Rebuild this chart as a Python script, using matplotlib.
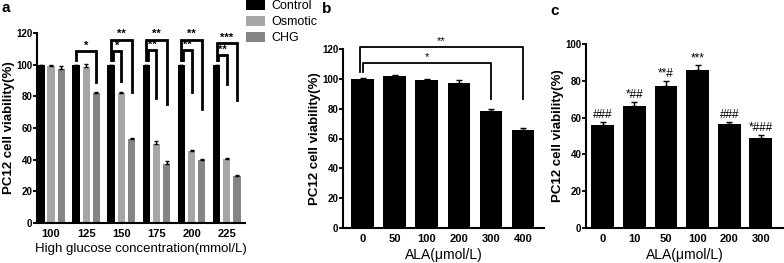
import numpy as np
import matplotlib
matplotlib.use("Agg")
import matplotlib.pyplot as plt
from matplotlib import font_manager as fm
from matplotlib.patches import Patch

def has_font(name):
    try:
        fm.findfont(name, fallback_to_default=False)
        return True
    except Exception:
        return False

NARROW = 'Liberation Sans Narrow' if has_font('Liberation Sans Narrow') else 'Liberation Sans'
ARIAL = 'Liberation Sans'

# ---------------- data ----------------
# panel a
a_cats = ['100', '125', '150', '175', '200', '225']
a_control = [100, 100, 100, 100, 100, 100]
a_control_err = [0, 0, 0, 0, 0, 0]
a_osmotic = [99, 98.5, 82, 50, 45.5, 40.5]
a_osmotic_err = [0.5, 2, 0.5, 1.5, 0.8, 0.6]
a_chg = [97, 82, 53, 37.5, 40, 30]
a_chg_err = [2, 0.5, 0.5, 1.5, 0.5, 0.4]
# brackets: (group index, target series 1=osmotic 2=chg, top, right end, label)
a_brackets = [
    (1, 2, 108.6, 89, '*'),
    (2, 2, 115.8, 83, '**'),
    (2, 1, 108.4, 89.5, '*'),
    (3, 2, 115.8, 75, '**'),
    (3, 1, 109.0, 79, '**'),
    (4, 2, 115.8, 72, '**'),
    (4, 1, 109.0, 83, '**'),
    (5, 2, 113.7, 78, '***'),
    (5, 1, 106.0, 87.5, '**'),
]

# panel b
b_cats = ['0', '50', '100', '200', '300', '400']
b_vals = [100, 102, 99, 97, 78.5, 65.5]
b_err = [0.3, 0.3, 0.6, 2.2, 1.0, 1.5]
b_brackets = [  # (from idx, to idx, top, left end, right end, label)
    (0, 5, 121.3, 104.5, 86.3, '**'),
    (0, 4, 110.4, 104.5, 86.3, '*'),
]

# panel c
c_cats = ['0', '10', '50', '100', '200', '300']
c_vals = [56, 66.5, 77, 86, 56.5, 49]
c_err = [1.5, 2.2, 3.0, 2.5, 1.0, 1.5]
c_labels = ['###', '*##', '**#', '***', '###', '*###']

# ---------------- figure ----------------
W, H = 784, 263
fig = plt.figure(figsize=(W / 100, H / 100), dpi=100)

def px_axes(left, right, top, bottom):
    return fig.add_axes([left / W, 1 - bottom / H, (right - left) / W, (bottom - top) / H])

def style(ax, ymax, yticks, label_x_px, left_px, width_px):
    for s in ['top', 'right']:
        ax.spines[s].set_visible(False)
    for s in ['left', 'bottom']:
        ax.spines[s].set_linewidth(1.5)
    ax.set_ylim(0, ymax)
    ax.set_yticks(yticks)
    ax.tick_params(axis='y', direction='out', length=3, width=1.3, pad=0.4)
    ax.tick_params(axis='x', length=0, pad=4)
    for lab in ax.get_xticklabels():
        lab.set_fontfamily(NARROW)
        lab.set_fontweight('bold')
        lab.set_fontsize(8)
    for lab in ax.get_yticklabels():
        lab.set_fontfamily(NARROW)
        lab.set_fontweight('bold')
        lab.set_fontsize(7)
    ax.set_ylabel('PC12 cell viability(%)', fontfamily=ARIAL, fontweight='bold',
                  fontsize=9.5)
    # right edge of the rotated label sits at label_x_px
    ax.yaxis.set_label_coords((label_x_px - left_px) / width_px, 0.5)

# ---- panel a ----
A_L, A_R = 37, 245
axa = px_axes(A_L, A_R, 33, 223)
xa = np.arange(len(a_cats))
off, bw = 0.29, 0.21
series = [(a_control, a_control_err, 'black', 'Control'),
          (a_osmotic, a_osmotic_err, '#a6a6a6', 'Osmotic'),
          (a_chg, a_chg_err, '#858585', 'CHG')]
for i, (vals, err, col, name) in enumerate(series):
    xs = xa + (i - 1) * off
    axa.bar(xs, vals, width=bw, color=col, label=name)
    axa.errorbar(xs, vals, yerr=[np.zeros(len(err)), err], fmt='none', ecolor='black',
                 elinewidth=1, capsize=1.5, capthick=1)
axa.set_xlim(-0.40, 5.52)
axa.set_xticks(xa)
axa.set_xticklabels(a_cats)
style(axa, 120, [0, 20, 40, 60, 80, 100, 120], 15, A_L, A_R - A_L)
axa.set_xlabel('High glucose concentration(mmol/L)', fontfamily=NARROW, fontsize=9.5, labelpad=3)
for g, s, top, rend, lab in a_brackets:
    x0 = g - off + (0.04 if s == 1 else 0)
    x1 = g + (s - 1) * off
    axa.plot([x0, x0, x1, x1], [103, top, top, rend], color='black', lw=2,
             clip_on=False, solid_joinstyle='miter')
    axa.text((x0 + x1) / 2, top + 0.3, lab, ha='center', va='bottom', fontsize=8,
             fontweight='bold', fontfamily=NARROW, clip_on=False)

# legend
handles = [Patch(facecolor=c, edgecolor='none', label=n) for _, _, c, n in series]
fig.legend(handles=handles, loc='upper left', bbox_to_anchor=(246 / W, 1.0),
           frameon=False, handlelength=1.5, handleheight=0.85, handletextpad=0.5,
           labelspacing=0.3, borderpad=0, borderaxespad=0,
           prop={'family': NARROW, 'size': 9})

# ---- panel b ----
B_L, B_R = 343, 544
axb = px_axes(B_L, B_R, 49, 228)
xb = np.arange(len(b_cats))
axb.bar(xb, b_vals, width=0.7, color='black')
axb.errorbar(xb, b_vals, yerr=[np.zeros(len(b_err)), b_err], fmt='none', ecolor='black',
             elinewidth=1, capsize=2.5, capthick=1)
axb.set_xlim(-0.61, 5.66)
axb.set_xticks(xb)
axb.set_xticklabels(b_cats)
style(axb, 120, [0, 20, 40, 60, 80, 100, 120], 321, B_L, B_R - B_L)
axb.set_xlabel('ALA(\u03bcmol/L)', fontfamily=NARROW, fontsize=10, labelpad=3)
for i0, i1, top, lend, rend, lab in b_brackets:
    x0 = i0 - (0.08 if i1 == 5 else 0)
    axb.plot([x0, x0, i1, i1], [lend, top, top, rend], color='black', lw=1.3, clip_on=False)
    axb.text((x0 + i1) / 2, top + 0.8, lab, ha='center', va='bottom', fontsize=8,
             fontfamily=NARROW, clip_on=False)

# ---- panel c ----
C_L, C_R = 586, 783
axc = px_axes(C_L, C_R, 44, 228)
xc = np.arange(len(c_cats))
axc.bar(xc, c_vals, width=0.72, color='black')
axc.errorbar(xc, c_vals, yerr=[np.zeros(len(c_err)), c_err], fmt='none', ecolor='black',
             elinewidth=1, capsize=2.5, capthick=1)
axc.set_xlim(-0.53, 5.70)
axc.set_xticks(xc)
axc.set_xticklabels(c_cats)
style(axc, 100, [0, 20, 40, 60, 80, 100], 564, C_L, C_R - C_L)
axc.set_xlabel('ALA(\u03bcmol/L)', fontfamily=NARROW, fontsize=10, labelpad=3)
for x, v, e, lab in zip(xc, c_vals, c_err, c_labels):
    axc.text(x, v + e + 0.5, lab, ha='center', va='bottom', fontsize=8.5,
             fontfamily=NARROW, clip_on=False)

# panel letters
for x, y, t in [(2, 12, 'a'), (322, 13, 'b'), (550, 15, 'c')]:
    fig.text(x / W, 1 - y / H, t, fontsize=11, fontweight='bold', fontfamily=ARIAL,
             va='baseline', ha='left')

fig.savefig('out.png', dpi=100)
